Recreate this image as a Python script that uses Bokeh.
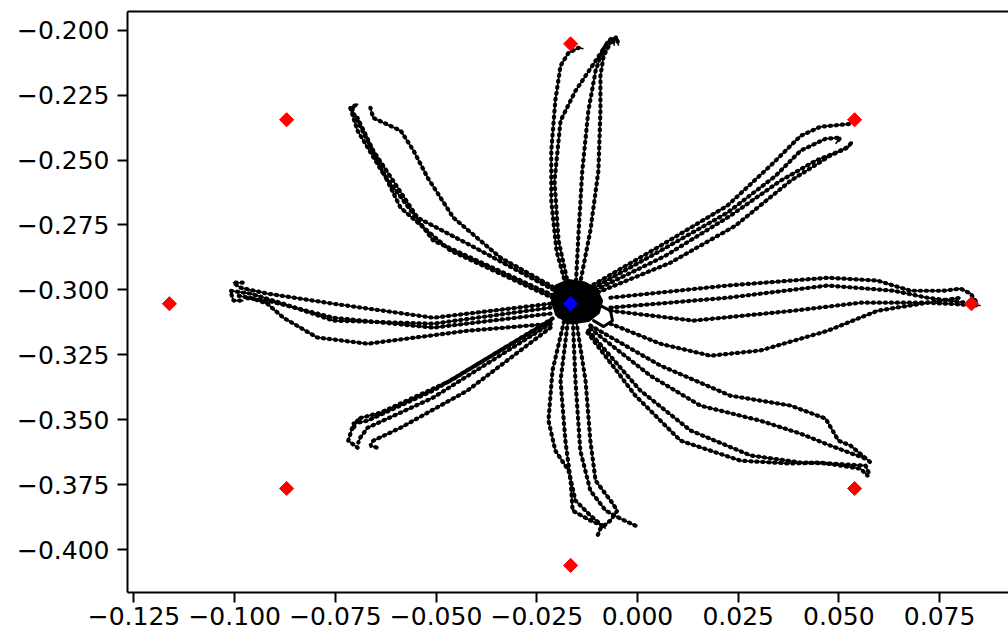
from bokeh.plotting import figure
from bokeh.models import Range1d, LinearAxis, FixedTicker
from bokeh.embed import file_html
from bokeh.resources import INLINE
import math

# ---- data ----
target_x = [0.0829, 0.0539, -0.0166, -0.0871, -0.1162, -0.0871, -0.0166, 0.0539]
target_y = [-0.3053, -0.2345, -0.2053, -0.2345, -0.3053, -0.3764, -0.4060, -0.3764]
start_x = [-0.0166]
start_y = [-0.3053]

up_x = [[-0.0171, -0.0201, -0.0214, -0.0214, -0.0204, -0.0191, -0.0171, -0.0146, -0.0134],
        [-0.0166, -0.0196, -0.0206, -0.0191, -0.0154, -0.0112, -0.0079, -0.0062, -0.0057],
        [-0.0154, -0.0146, -0.0137, -0.0122, -0.0104, -0.0087, -0.0072, -0.0062],
        [-0.0146, -0.0117, -0.0097, -0.0092, -0.0092, -0.0084, -0.0067, -0.0052, -0.0047]]
up_y = [[-0.3022, -0.2849, -0.2657, -0.2464, -0.2272, -0.2137, -0.2087, -0.2068, -0.2072],
        [-0.3022, -0.2810, -0.2580, -0.2349, -0.2234, -0.2137, -0.2060, -0.2034, -0.2060],
        [-0.3010, -0.2772, -0.2541, -0.2311, -0.2157, -0.2080, -0.2041, -0.2030],
        [-0.3003, -0.2772, -0.2541, -0.2311, -0.2176, -0.2099, -0.2049, -0.2026, -0.2060]]

upright_x = [[-0.0122, 0.0057, 0.0223, 0.0330, 0.0405, 0.0454, 0.0529],
             [-0.0122, 0.0057, 0.0223, 0.0343, 0.0405, 0.0467, 0.0504, 0.0492],
             [-0.0117, 0.0070, 0.0231, 0.0355, 0.0442, 0.0516, 0.0534],
             [-0.0112, 0.0082, 0.0243, 0.0380, 0.0479, 0.0529]]
upright_y = [[-0.2991, -0.2830, -0.2676, -0.2522, -0.2407, -0.2372, -0.2361],
             [-0.3003, -0.2849, -0.2703, -0.2561, -0.2464, -0.2418, -0.2414, -0.2437],
             [-0.3010, -0.2868, -0.2714, -0.2580, -0.2503, -0.2457, -0.2430],
             [-0.3018, -0.2895, -0.2753, -0.2580, -0.2483, -0.2445]]

right_x = [[-0.0067, 0.0223, 0.0472, 0.0596, 0.0678, 0.0760, 0.0802, 0.0827, 0.0844],
           [-0.0067, 0.0223, 0.0472, 0.0636, 0.0720, 0.0834],
           [-0.0067, 0.0139, 0.0387, 0.0554, 0.0720, 0.0852],
           [-0.0067, 0.0057, 0.0181, 0.0305, 0.0472, 0.0596, 0.0720, 0.0802]]
right_y = [[-0.3030, -0.2983, -0.2953, -0.2964, -0.3003, -0.3003, -0.2995, -0.3014, -0.3053],
           [-0.3068, -0.3030, -0.2983, -0.3003, -0.3030, -0.3053],
           [-0.3080, -0.3118, -0.3080, -0.3049, -0.3049, -0.3060],
           [-0.3130, -0.3207, -0.3253, -0.3233, -0.3157, -0.3080, -0.3049, -0.3030]]

downright_x = [[-0.0117, 0.0057, 0.0231, 0.0380, 0.0467, 0.0499, 0.0529, 0.0579],
               [-0.0117, 0.0032, 0.0156, 0.0305, 0.0405, 0.0479, 0.0566],
               [-0.0122, 0.0007, 0.0132, 0.0281, 0.0405, 0.0479, 0.0566, 0.0574],
               [-0.0124, -0.0005, 0.0107, 0.0256, 0.0380, 0.0454, 0.0554, 0.0571]]
downright_y = [[-0.3137, -0.3291, -0.3407, -0.3445, -0.3495, -0.3580, -0.3599, -0.3664],
               [-0.3149, -0.3330, -0.3445, -0.3503, -0.3553, -0.3599, -0.3649],
               [-0.3157, -0.3387, -0.3541, -0.3637, -0.3664, -0.3668, -0.3676, -0.3703],
               [-0.3164, -0.3407, -0.3580, -0.3657, -0.3668, -0.3664, -0.3688, -0.3714]]

down_x = [[-0.0179, -0.0211, -0.0221, -0.0204, -0.0171, -0.0154, -0.0117, -0.0079],
          [-0.0171, -0.0191, -0.0179, -0.0166, -0.0161, -0.0117, -0.0087],
          [-0.0161, -0.0154, -0.0142, -0.0117, -0.0079, -0.0042, -0.0005],
          [-0.0154, -0.0129, -0.0117, -0.0104, -0.0067, -0.0050, -0.0067, -0.0092, -0.0099]]
down_y = [[-0.3099, -0.3310, -0.3503, -0.3618, -0.3695, -0.3810, -0.3868, -0.3918],
          [-0.3099, -0.3349, -0.3580, -0.3734, -0.3849, -0.3887, -0.3907],
          [-0.3099, -0.3349, -0.3618, -0.3772, -0.3849, -0.3880, -0.3907],
          [-0.3099, -0.3349, -0.3580, -0.3734, -0.3810, -0.3849, -0.3887, -0.3918, -0.3945]]

downleft_x = [[-0.0216, -0.0507, -0.0670, -0.0705, -0.0718, -0.0695],
              [-0.0216, -0.0507, -0.0670, -0.0688, -0.0693],
              [-0.0216, -0.0422, -0.0588, -0.0656, -0.0663, -0.0646],
              [-0.0211, -0.0464, -0.0638, -0.0693, -0.0708]]
downleft_y = [[-0.3118, -0.3387, -0.3503, -0.3514, -0.3580, -0.3607],
              [-0.3130, -0.3414, -0.3530, -0.3568, -0.3587],
              [-0.3145, -0.3387, -0.3530, -0.3580, -0.3599, -0.3607],
              [-0.3110, -0.3349, -0.3472, -0.3495, -0.3541]]

left_x = [[-0.0216, -0.0507, -0.0755, -0.0919, -0.0986, -0.1003, -0.0978],
          [-0.0216, -0.0507, -0.0755, -0.0879, -0.0961, -0.1011, -0.1003, -0.0978],
          [-0.0216, -0.0422, -0.0670, -0.0795, -0.0879, -0.0919, -0.0961, -0.0993],
          [-0.0216, -0.0507, -0.0755, -0.0919, -0.0978]]
left_y = [[-0.3053, -0.3107, -0.3053, -0.3014, -0.2991, -0.2972, -0.2972],
          [-0.3068, -0.3130, -0.3118, -0.3053, -0.3014, -0.3003, -0.3041, -0.3041],
          [-0.3130, -0.3157, -0.3207, -0.3183, -0.3107, -0.3053, -0.3030, -0.3022],
          [-0.3091, -0.3145, -0.3107, -0.3041, -0.3030]]

upleft_x = [[-0.0196, -0.0507, -0.0631, -0.0695, -0.0713, -0.0693],
            [-0.0196, -0.0464, -0.0588, -0.0670, -0.0708, -0.0705],
            [-0.0196, -0.0422, -0.0546, -0.0656, -0.0695],
            [-0.0196, -0.0340, -0.0457, -0.0521, -0.0556, -0.0588, -0.0656, -0.0663]]
upleft_y = [[-0.3030, -0.2810, -0.2553, -0.2387, -0.2299, -0.2284],
            [-0.3041, -0.2849, -0.2684, -0.2426, -0.2311, -0.2291],
            [-0.3010, -0.2822, -0.2722, -0.2464, -0.2338],
            [-0.3000, -0.2876, -0.2722, -0.2568, -0.2464, -0.2387, -0.2338, -0.2299]]

# dense hold region at the start position (outline of the black blob)
blob_x = [-0.0201, -0.0171, -0.0134, -0.0104, -0.0089, -0.0097, -0.0122, -0.0161, -0.0196, -0.0211]
blob_y = [-0.2983, -0.2964, -0.2972, -0.2995, -0.3041, -0.3087, -0.3118, -0.3126, -0.3103, -0.3049]

hold_x = [-0.0204, -0.0179, -0.0129, -0.0099, -0.0092, -0.0117, -0.0166, -0.0201, -0.0211,
          -0.0191, -0.0142, -0.0117, -0.0129, -0.0171, -0.0191, -0.0154, -0.0117,
          -0.0092, -0.0067, -0.0062, -0.0084, -0.0109]
hold_y = [-0.3003, -0.2972, -0.2976, -0.3010, -0.3060, -0.3110, -0.3126, -0.3095, -0.3041,
          -0.3010, -0.3003, -0.3041, -0.3087, -0.3099, -0.3060, -0.3026, -0.3026,
          -0.3060, -0.3080, -0.3118, -0.3141, -0.3118]

x_ticks = [-0.125, -0.100, -0.075, -0.050, -0.025, 0.0, 0.025, 0.050, 0.075]
x_tick_labels = ["\u22120.125", "\u22120.100", "\u22120.075", "\u22120.050", "\u22120.025",
                 "0.000", "0.025", "0.050", "0.075"]
y_ticks = [-0.400, -0.375, -0.350, -0.325, -0.300, -0.275, -0.250, -0.225, -0.200]
y_tick_labels = ["\u22120.400", "\u22120.375", "\u22120.350", "\u22120.325", "\u22120.300",
                 "\u22120.275", "\u22120.250", "\u22120.225", "\u22120.200"]

# ---- figure ----
p = figure(width=1008, height=634, output_backend="svg", toolbar_location=None,
           x_range=Range1d(-0.12661, 0.09211), y_range=Range1d(-0.41642, -0.19285),
           min_border_left=127, min_border_right=0, min_border_top=11, min_border_bottom=42,
           x_axis_location=None, y_axis_location=None)
p.grid.visible = False
p.outline_line_color = None
p.background_fill_color = "white"
p.border_fill_color = "white"

def style_axis(ax):
    ax.axis_line_color = "black"
    ax.axis_line_width = 2
    ax.major_tick_line_color = "black"
    ax.major_tick_line_width = 2
    ax.major_tick_out = 10
    ax.major_tick_in = 0
    ax.minor_tick_line_color = None
    ax.major_label_text_font = "DejaVu Sans"
    ax.major_label_text_font_size = "25px"
    ax.major_label_text_color = "black"

xa = LinearAxis(ticker=FixedTicker(ticks=x_ticks),
                major_label_overrides=dict(zip(x_ticks, x_tick_labels)))
style_axis(xa)
xa.major_label_standoff = 4
p.add_layout(xa, "below")

ya = LinearAxis(ticker=FixedTicker(ticks=y_ticks),
                major_label_overrides=dict(zip(y_ticks, y_tick_labels)))
style_axis(ya)
ya.major_label_standoff = 8
p.add_layout(ya, "left")

top = LinearAxis(ticker=FixedTicker(ticks=[]))
top.axis_line_color = "black"
top.axis_line_width = 2
top.major_tick_line_color = None
top.minor_tick_line_color = None
top.major_label_standoff = 0
p.add_layout(top, "above")

groups = [(up_x, up_y), (upright_x, upright_y), (right_x, right_y), (downright_x, downright_y),
          (down_x, down_y), (downleft_x, downleft_y), (left_x, left_y), (upleft_x, upleft_y)]
for gx, gy in groups:
    p.multi_line(xs=gx, ys=gy, line_color="black", line_width=1.6, line_join="round")
    p.multi_line(xs=gx, ys=gy, line_color="black", line_width=4.2,
                 line_dash="1 5", line_cap="round")

p.patch(blob_x, blob_y, fill_color="black", line_color="black", line_width=3, line_join="round")
p.line(hold_x, hold_y, line_color="black", line_width=3, line_join="round", line_cap="round")

p.scatter(target_x, target_y, marker="square", size=10, angle=math.pi / 4,
          fill_color="#ff0000", line_color="#ff0000")
p.scatter(start_x, start_y, marker="square", size=10, angle=math.pi / 4,
          fill_color="#0000ff", line_color="#0000ff")

open("out.html", "w").write(file_html(p, INLINE))
